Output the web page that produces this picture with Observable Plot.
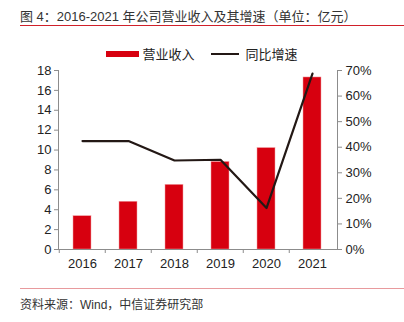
<!DOCTYPE html>
<html><head><meta charset="utf-8">
<script src="https://cdn.jsdelivr.net/npm/d3@7"></script>
<script src="https://cdn.jsdelivr.net/npm/@observablehq/plot@0.6"></script>
<style>
body{margin:0;background:#fff;font-family:"Liberation Sans","Noto Sans CJK SC",sans-serif;}
#wrap{position:relative;width:404px;height:322px;overflow:hidden;}
#title{position:absolute;left:20px;top:8px;width:384px;height:17px;border-bottom:1px solid #d0202a;font-size:13px;color:#333;line-height:17px;}
#legend{position:absolute;left:0;top:44px;width:404px;display:flex;justify-content:center;align-items:center;font-size:13px;color:#222;}
#foot{position:absolute;left:20px;top:288px;width:384px;border-top:1px solid #e89a9d;font-size:12px;color:#333;padding-top:6px;}
#chart{position:absolute;left:0;top:0;}
</style></head>
<body>
<div id="wrap">
<div id="chart"></div>
<div id="title">图 4：2016-2021 年公司营业收入及其增速（单位：亿元）</div>
<div id="legend">
<span style="display:inline-block;width:33px;height:6px;background:#d7000f;margin-right:3px"></span><span>营业收入</span>
<span style="display:inline-block;width:28px;height:2px;background:#231815;margin-left:16px;margin-right:7px"></span><span>同比增速</span>
</div>
<div id="foot">资料来源：Wind，中信证券研究部</div>
</div>
<script>
const years = ["2016","2017","2018","2019","2020","2021"];
const revenue = [3.35, 4.8, 6.5, 8.8, 10.2, 17.3];
const growth = [42.4, 42.4, 34.8, 35.1, 16.2, 68.8];
const leftTicks = [0,2,4,6,8,10,12,14,16,18];
const rightTicks = [0,10,20,30,40,50,60,70];
const leftMax = 18, rightMax = 70;
const k = leftMax / rightMax;

const data = years.map((y,i)=>({year:y, rev:revenue[i], g:growth[i]}));
const W = 404, H = 322;
const mL = 58, mR = 67, mT = 70, mB = 73;
const bw = (W - mL - mR) / years.length;
const axisColor = "#8c8c8c";

const plot = Plot.plot({
  width: W, height: H,
  marginLeft: mL, marginRight: mR, marginTop: mT, marginBottom: mB,
  style: {fontFamily: '"Liberation Sans", Arial, sans-serif', fontSize: "12px", color: "#222", background: "transparent"},
  x: {type: "band", domain: years, paddingInner: 0.6, paddingOuter: 0.3, align: 0.5, axis: null},
  y: {domain: [0, leftMax], axis: null},
  marks: [
    Plot.barY(data, {x: "year", y: "rev", fill: "#d7000f", stroke: "#f2a0a4", strokeWidth: 0.5}),
    Plot.line(data, {x: "year", y: d => d.g * k, stroke: "#231815", strokeWidth: 2.2}),
    Plot.frame({anchor: "left", stroke: axisColor}),
    Plot.frame({anchor: "right", stroke: axisColor}),
    Plot.ruleY([0], {stroke: axisColor}),
    Plot.axisY({anchor: "left", ticks: leftTicks, tickSize: 4, tickPadding: 3, stroke: axisColor, label: null, tickFormat: d => d, fontSize: 13}),
    Plot.axisY({anchor: "right", ticks: rightTicks.map(v => v * k), tickSize: 4, tickPadding: 4, stroke: axisColor, label: null, tickFormat: d => Math.round(d / k) + "%", fontSize: 13}),
    Plot.axisX({ticks: years, tickSize: 4, tickFormat: () => "", stroke: axisColor, dx: -bw/2, label: null}),
    Plot.axisX({ticks: years, tickSize: 0, tickPadding: 9, label: null, fontSize: 13})
  ]
});
document.getElementById("chart").appendChild(plot);
</script>
</body></html>
